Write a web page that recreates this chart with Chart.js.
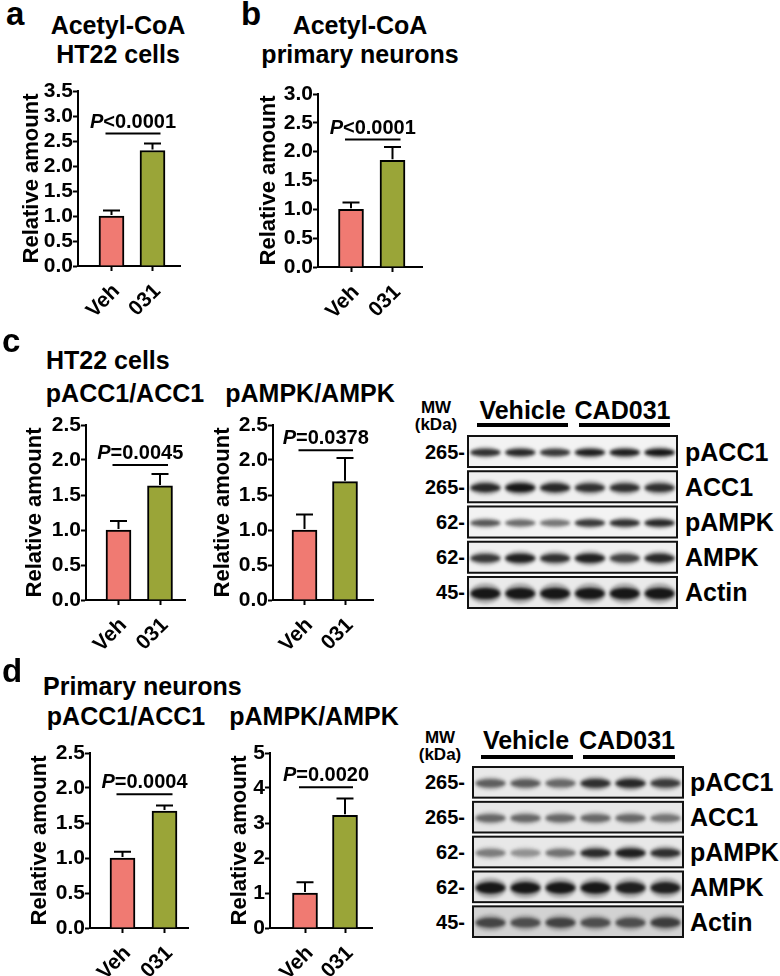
<!DOCTYPE html>
<html>
<head>
<meta charset="utf-8">
<script src="https://cdn.jsdelivr.net/npm/chart.js@4.4.1/dist/chart.umd.min.js"></script>
<style>
  body { margin: 0; background: #fff; }
  #fig { position: relative; width: 780px; height: 976px; overflow: hidden; font-family: "Liberation Sans", Arial, sans-serif; font-weight: bold; color: #000; }
  .t { position: absolute; white-space: nowrap; }
  .c { text-align: center; }
  .bar { position: absolute; background: #000; height: 4px; }
  canvas { position: absolute; }
</style>
</head>
<body>
<div id="fig"></div>
<script>
// ---- data ----
const groups = ['Veh', '031'];
const ticks35 = [0, 0.5, 1, 1.5, 2, 2.5, 3, 3.5];
const ticks30 = [0, 0.5, 1, 1.5, 2, 2.5, 3];
const ticks25 = [0, 0.5, 1, 1.5, 2, 2.5];
const ticks5 = [0, 1, 2, 3, 4, 5];

const acoaHT22 = [1.0, 2.31], acoaHT22Err = [0.11, 0.14];
const acoaNeu = [1.0, 1.85], acoaNeuErr = [0.12, 0.23];
const ht22Acc = [1.0, 1.63], ht22AccErr = [0.13, 0.17];
const ht22Ampk = [1.0, 1.69], ht22AmpkErr = [0.22, 0.34];
const neuAcc = [1.0, 1.67], neuAccErr = [0.09, 0.08];
const neuAmpk = [1.0, 3.22], neuAmpkErr = [0.31, 0.48];

const sigHeights = [2.65, 2.21, 1.93, 2.14, 1.91, 4.02];
const pValues = ['<0.0001', '<0.0001', '=0.0045', '=0.0378', '=0.0004', '=0.0020'];

const blotRows = ['pACC1', 'ACC1', 'pAMPK', 'AMPK', 'Actin'];
const blotMW = ['265-', '265-', '62-', '62-', '45-'];
// band darkness per lane (Vehicle x3, CAD031 x3)
const ht22Bands = [
  [0.85, 0.9, 0.8, 0.95, 0.95, 1.0],
  [0.9, 1.0, 0.9, 0.85, 0.85, 0.85],
  [0.65, 0.55, 0.5, 0.8, 0.85, 0.9],
  [0.8, 0.95, 0.85, 0.95, 0.75, 0.9],
  [1.0, 1.0, 1.0, 1.0, 1.0, 1.0]
];
const neuBands = [
  [0.6, 0.62, 0.55, 0.85, 0.9, 0.78],
  [0.55, 0.55, 0.55, 0.55, 0.55, 0.48],
  [0.45, 0.35, 0.5, 0.88, 0.95, 0.85],
  [1.0, 1.0, 1.0, 1.0, 0.95, 0.95],
  [0.7, 0.65, 0.72, 0.65, 0.65, 0.75]
];

const FONT = '"Liberation Sans", Arial, sans-serif';
Chart.defaults.font.family = FONT;
Chart.defaults.font.weight = 'bold';
Chart.defaults.color = '#000';

const fig = document.getElementById('fig');
function text(str, css, cls) {
  const d = document.createElement('div');
  d.className = 't ' + (cls || '');
  d.innerHTML = str;
  d.style.cssText += css;
  fig.appendChild(d);
  return d;
}

// error bars + significance line
const barMarks = {
  id: 'barMarks',
  afterDatasetsDraw(chart, args, o) {
    const { ctx, scales: { x, y } } = chart;
    ctx.save();
    ctx.strokeStyle = '#000';
    ctx.lineWidth = 2;
    o.means.forEach((m, i) => {
      const px = x.getPixelForValue(i);
      const y0 = y.getPixelForValue(m) - 1, y1 = y.getPixelForValue(m + o.errs[i]);
      ctx.beginPath();
      ctx.moveTo(px, y0); ctx.lineTo(px, y1);
      ctx.moveTo(px - 8.5, y1); ctx.lineTo(px + 8.5, y1);
      ctx.stroke();
    });
    const sy = y.getPixelForValue(o.sig);
    const xa = x.getPixelForValue(0) - 6, xb = x.getPixelForValue(1) + 8;
    ctx.beginPath(); ctx.moveTo(xa, sy); ctx.lineTo(xb, sy); ctx.stroke();
    ctx.fillStyle = '#000';
    ctx.textBaseline = 'alphabetic';
    ctx.font = 'italic bold 20px ' + FONT;
    const w1 = ctx.measureText('P').width;
    ctx.font = 'bold 20px ' + FONT;
    const w2 = ctx.measureText(o.p).width;
    let tx = (xa + xb) / 2 - (w1 + w2) / 2;
    ctx.font = 'italic bold 20px ' + FONT;
    ctx.fillText('P', tx, sy - 6);
    ctx.font = 'bold 20px ' + FONT;
    ctx.fillText(o.p, tx + w1, sy - 6);
    ctx.restore();
  }
};

const YW = 80, XH = 60, PT = 14, PR = 6;
function barPanel(p, means, errs, ticks, dec, sig, pv) {
  const cv = document.createElement('canvas');
  const w = YW + (p.xEnd - p.ax) + PR, h = PT + (p.bottom - p.top) + XH;
  cv.width = w; cv.height = h;
  cv.style.left = (p.ax - YW) + 'px';
  cv.style.top = (p.top - PT) + 'px';
  fig.appendChild(cv);
  const grid = { display: true, drawOnChartArea: false, drawTicks: true, tickLength: 5, tickColor: '#000', tickWidth: 2, color: '#000', offset: false };
  new Chart(cv, {
    type: 'bar',
    data: {
      datasets: [{
        data: means.map((m, i) => ({ x: i, y: m })),
        backgroundColor: ['#f07a72', '#9aa538'],
        borderColor: '#000',
        borderWidth: 2,
        barThickness: 25
      }]
    },
    options: {
      responsive: false, animation: false, devicePixelRatio: 1,
      layout: { padding: { top: PT, right: PR, left: 0, bottom: 0 } },
      plugins: { legend: { display: false }, tooltip: { enabled: false },
        barMarks: { means, errs, sig, p: pv } },
      scales: {
        x: {
          type: 'linear', offset: false,
          min: -(p.c0 - p.ax) / p.gap, max: (p.xEnd - p.c0) / p.gap,
          afterBuildTicks: s => { s.ticks = groups.map((g, i) => ({ value: i })); },
          afterFit: s => { s.height = XH; },
          ticks: { callback: v => groups[v], autoSkip: false, minRotation: 45, maxRotation: 45, padding: 8, labelOffset: 5, font: { size: 21, weight: 'bold' } },
          grid, border: { color: '#000', width: 2 }
        },
        y: {
          min: 0, max: ticks[ticks.length - 1],
          afterBuildTicks: s => { s.ticks = ticks.map(v => ({ value: v })); },
          afterFit: s => { s.width = YW; },
          ticks: { callback: v => v.toFixed(dec), autoSkip: false, padding: 0, font: { size: 21, weight: 'bold' } },
          grid, border: { color: '#000', width: 2 },
          title: { display: true, text: 'Relative amount', font: { size: 22, weight: 'bold' }, padding: { top: YW - 13 - p.titleOff, bottom: 0 } }
        }
      }
    },
    plugins: [barMarks]
  });
}

// western blot drawn on a hidden-axis scatter chart (lane x row)
const blotDraw = {
  id: 'blotDraw',
  beforeDatasetsDraw(chart, args, o) {
    const { ctx, scales: { x, y } } = chart;
    const lw = x.getPixelForValue(2) - x.getPixelForValue(1);
    chart.data.datasets.forEach((ds, r) => {
      const y0 = y.getPixelForValue(r - 0.44), y1 = y.getPixelForValue(r + 0.44);
      const x0 = x.getPixelForValue(0.5), x1 = x.getPixelForValue(6.5);
      ctx.save();
      ctx.fillStyle = o.bg[r];
      ctx.fillRect(x0, y0, x1 - x0, y1 - y0);
      ctx.beginPath(); ctx.rect(x0, y0, x1 - x0, y1 - y0); ctx.clip();
      ctx.filter = 'blur(1.5px)';
      ds.data.forEach(pt => {
        const cx = x.getPixelForValue(pt.x), cy = (y0 + y1) / 2 + 1;
        const bh = o.thick[r] * (0.75 + 0.25 * pt.v);
        ctx.fillStyle = 'rgba(40,40,40,' + (0.3 * pt.v) + ')';
        ctx.beginPath(); ctx.ellipse(cx, cy, lw * 0.46, bh * 0.8, 0, 0, Math.PI * 2); ctx.fill();
        ctx.fillStyle = 'rgba(15,15,15,' + (0.95 * pt.v) + ')';
        ctx.beginPath(); ctx.ellipse(cx, cy, lw * 0.42, bh * 0.45, 0, 0, Math.PI * 2); ctx.fill();
      });
      ctx.restore();
      ctx.save();
      ctx.strokeStyle = '#111'; ctx.lineWidth = 2;
      ctx.strokeRect(x0, y0, x1 - x0, y1 - y0);
      ctx.restore();
    });
  }
};

function blot(b, bands) {
  const cv = document.createElement('canvas');
  cv.width = b.x1 - b.x0 + 4; cv.height = b.y1 - b.y0 + 4;
  cv.style.left = (b.x0 - 2) + 'px'; cv.style.top = (b.y0 - 2) + 'px';
  fig.appendChild(cv);
  new Chart(cv, {
    type: 'scatter',
    data: { datasets: bands.map((row, r) => ({ data: row.map((v, i) => ({ x: i + 1, y: r, v })), pointRadius: 0 })) },
    options: {
      responsive: false, animation: false, devicePixelRatio: 1,
      layout: { padding: 2 },
      plugins: { legend: { display: false }, tooltip: { enabled: false }, blotDraw: { bg: b.bg, thick: b.thick } },
      scales: {
        x: { type: 'linear', display: false, min: 0.5, max: 6.5 },
        y: { type: 'linear', display: false, min: -0.44, max: 4.44, reverse: true }
      }
    },
    plugins: [blotDraw]
  });
  const pitch = (b.y1 - b.y0) / 4.88;
  blotRows.forEach((name, r) => {
    const cy = b.y0 + pitch * (0.44 + r);
    text(blotMW[r], `font-size:20px;line-height:24px;top:${cy - 12}px;right:${780 - b.x0 + b.mwGap}px;`);
    text(name, `font-size:25px;line-height:24px;top:${cy - 12}px;left:${b.x1 + b.nameGap}px;`);
  });
  text('MW<br>(kDa)', `font-size:17px;line-height:17px;top:${b.mwTop}px;left:${b.mwX - 40}px;width:80px;`, 'c');
  text('Vehicle', `font-size:25px;line-height:24px;top:${b.hTop}px;left:${b.vehX - 60}px;width:120px;`, 'c');
  text('CAD031', `font-size:25px;line-height:24px;top:${b.hTop}px;left:${b.cadX - 60}px;width:120px;`, 'c');
  b.lines.forEach(l => {
    const d = document.createElement('div');
    d.className = 'bar';
    d.style.cssText += `left:${l[0]}px;width:${l[1] - l[0]}px;top:${b.lineY}px;`;
    fig.appendChild(d);
  });
}

// ---- panels ----
barPanel({ ax: 78, top: 91, bottom: 266, xEnd: 180, c0: 111.5, gap: 41, titleOff: 46 }, acoaHT22, acoaHT22Err, ticks35, 1, sigHeights[0], pValues[0]);
barPanel({ ax: 318, top: 94, bottom: 267, xEnd: 422, c0: 351, gap: 41.5, titleOff: 49 }, acoaNeu, acoaNeuErr, ticks30, 1, sigHeights[1], pValues[1]);
barPanel({ ax: 86, top: 425, bottom: 600, xEnd: 185, c0: 118.5, gap: 41.5, titleOff: 51 }, ht22Acc, ht22AccErr, ticks25, 1, sigHeights[2], pValues[2]);
barPanel({ ax: 273, top: 425, bottom: 600, xEnd: 373, c0: 304.5, gap: 40.5, titleOff: 50 }, ht22Ampk, ht22AmpkErr, ticks25, 1, sigHeights[3], pValues[3]);
barPanel({ ax: 90, top: 753, bottom: 928, xEnd: 188, c0: 122.5, gap: 42, titleOff: 50 }, neuAcc, neuAccErr, ticks25, 1, sigHeights[4], pValues[4]);
barPanel({ ax: 270, top: 753, bottom: 928, xEnd: 372, c0: 305, gap: 40, titleOff: 30 }, neuAmpk, neuAmpkErr, ticks5, 0, sigHeights[5], pValues[5]);

blot({ x0: 468, x1: 677, y0: 436, y1: 608, mwGap: 3, nameGap: 8,
  bg: ['#f3f3f3', '#efefef', '#f3f3f3', '#f0f0f0', '#eaeaea'], thick: [8, 10, 8, 10, 13],
  mwTop: 399, mwX: 436, hTop: 398, vehX: 522.5, cadX: 622.5, lineY: 423, lines: [[477, 568], [579, 670]] }, ht22Bands);
blot({ x0: 473, x1: 683, y0: 767, y1: 937, mwGap: 8, nameGap: 7,
  bg: ['#e9e9e9', '#e6e6e6', '#e8e8e8', '#e6e6e6', '#d2d2d2'], thick: [10, 10, 10, 13, 12],
  mwTop: 729, mwX: 440, hTop: 728, vehX: 526, cadX: 627, lineY: 755, lines: [[481, 573], [583, 675]] }, neuBands);

// ---- titles ----
text('a', 'font-size:33px;line-height:33px;left:6px;top:-3px;');
text('b', 'font-size:33px;line-height:33px;left:241px;top:-3px;');
text('c', 'font-size:33px;line-height:33px;left:2px;top:324px;');
text('d', 'font-size:33px;line-height:33px;left:2px;top:654px;');
text('Acetyl-CoA<br>HT22 cells', 'font-size:25px;line-height:29px;left:-2px;top:11px;width:240px;', 'c');
text('Acetyl-CoA<br>primary neurons', 'font-size:25px;line-height:29px;left:240px;top:11px;width:240px;', 'c');
text('HT22 cells', 'font-size:25px;line-height:24px;left:46px;top:348px;');
text('pACC1/ACC1', 'font-size:25px;line-height:24px;left:25px;top:381px;width:200px;', 'c');
text('pAMPK/AMPK', 'font-size:25px;line-height:24px;left:210px;top:381px;width:200px;', 'c');
text('Primary neurons', 'font-size:25px;line-height:24px;left:43px;top:674px;');
text('pACC1/ACC1', 'font-size:25px;line-height:24px;left:26px;top:704px;width:200px;', 'c');
text('pAMPK/AMPK', 'font-size:25px;line-height:24px;left:214px;top:704px;width:200px;', 'c');
</script>
</body>
</html>
